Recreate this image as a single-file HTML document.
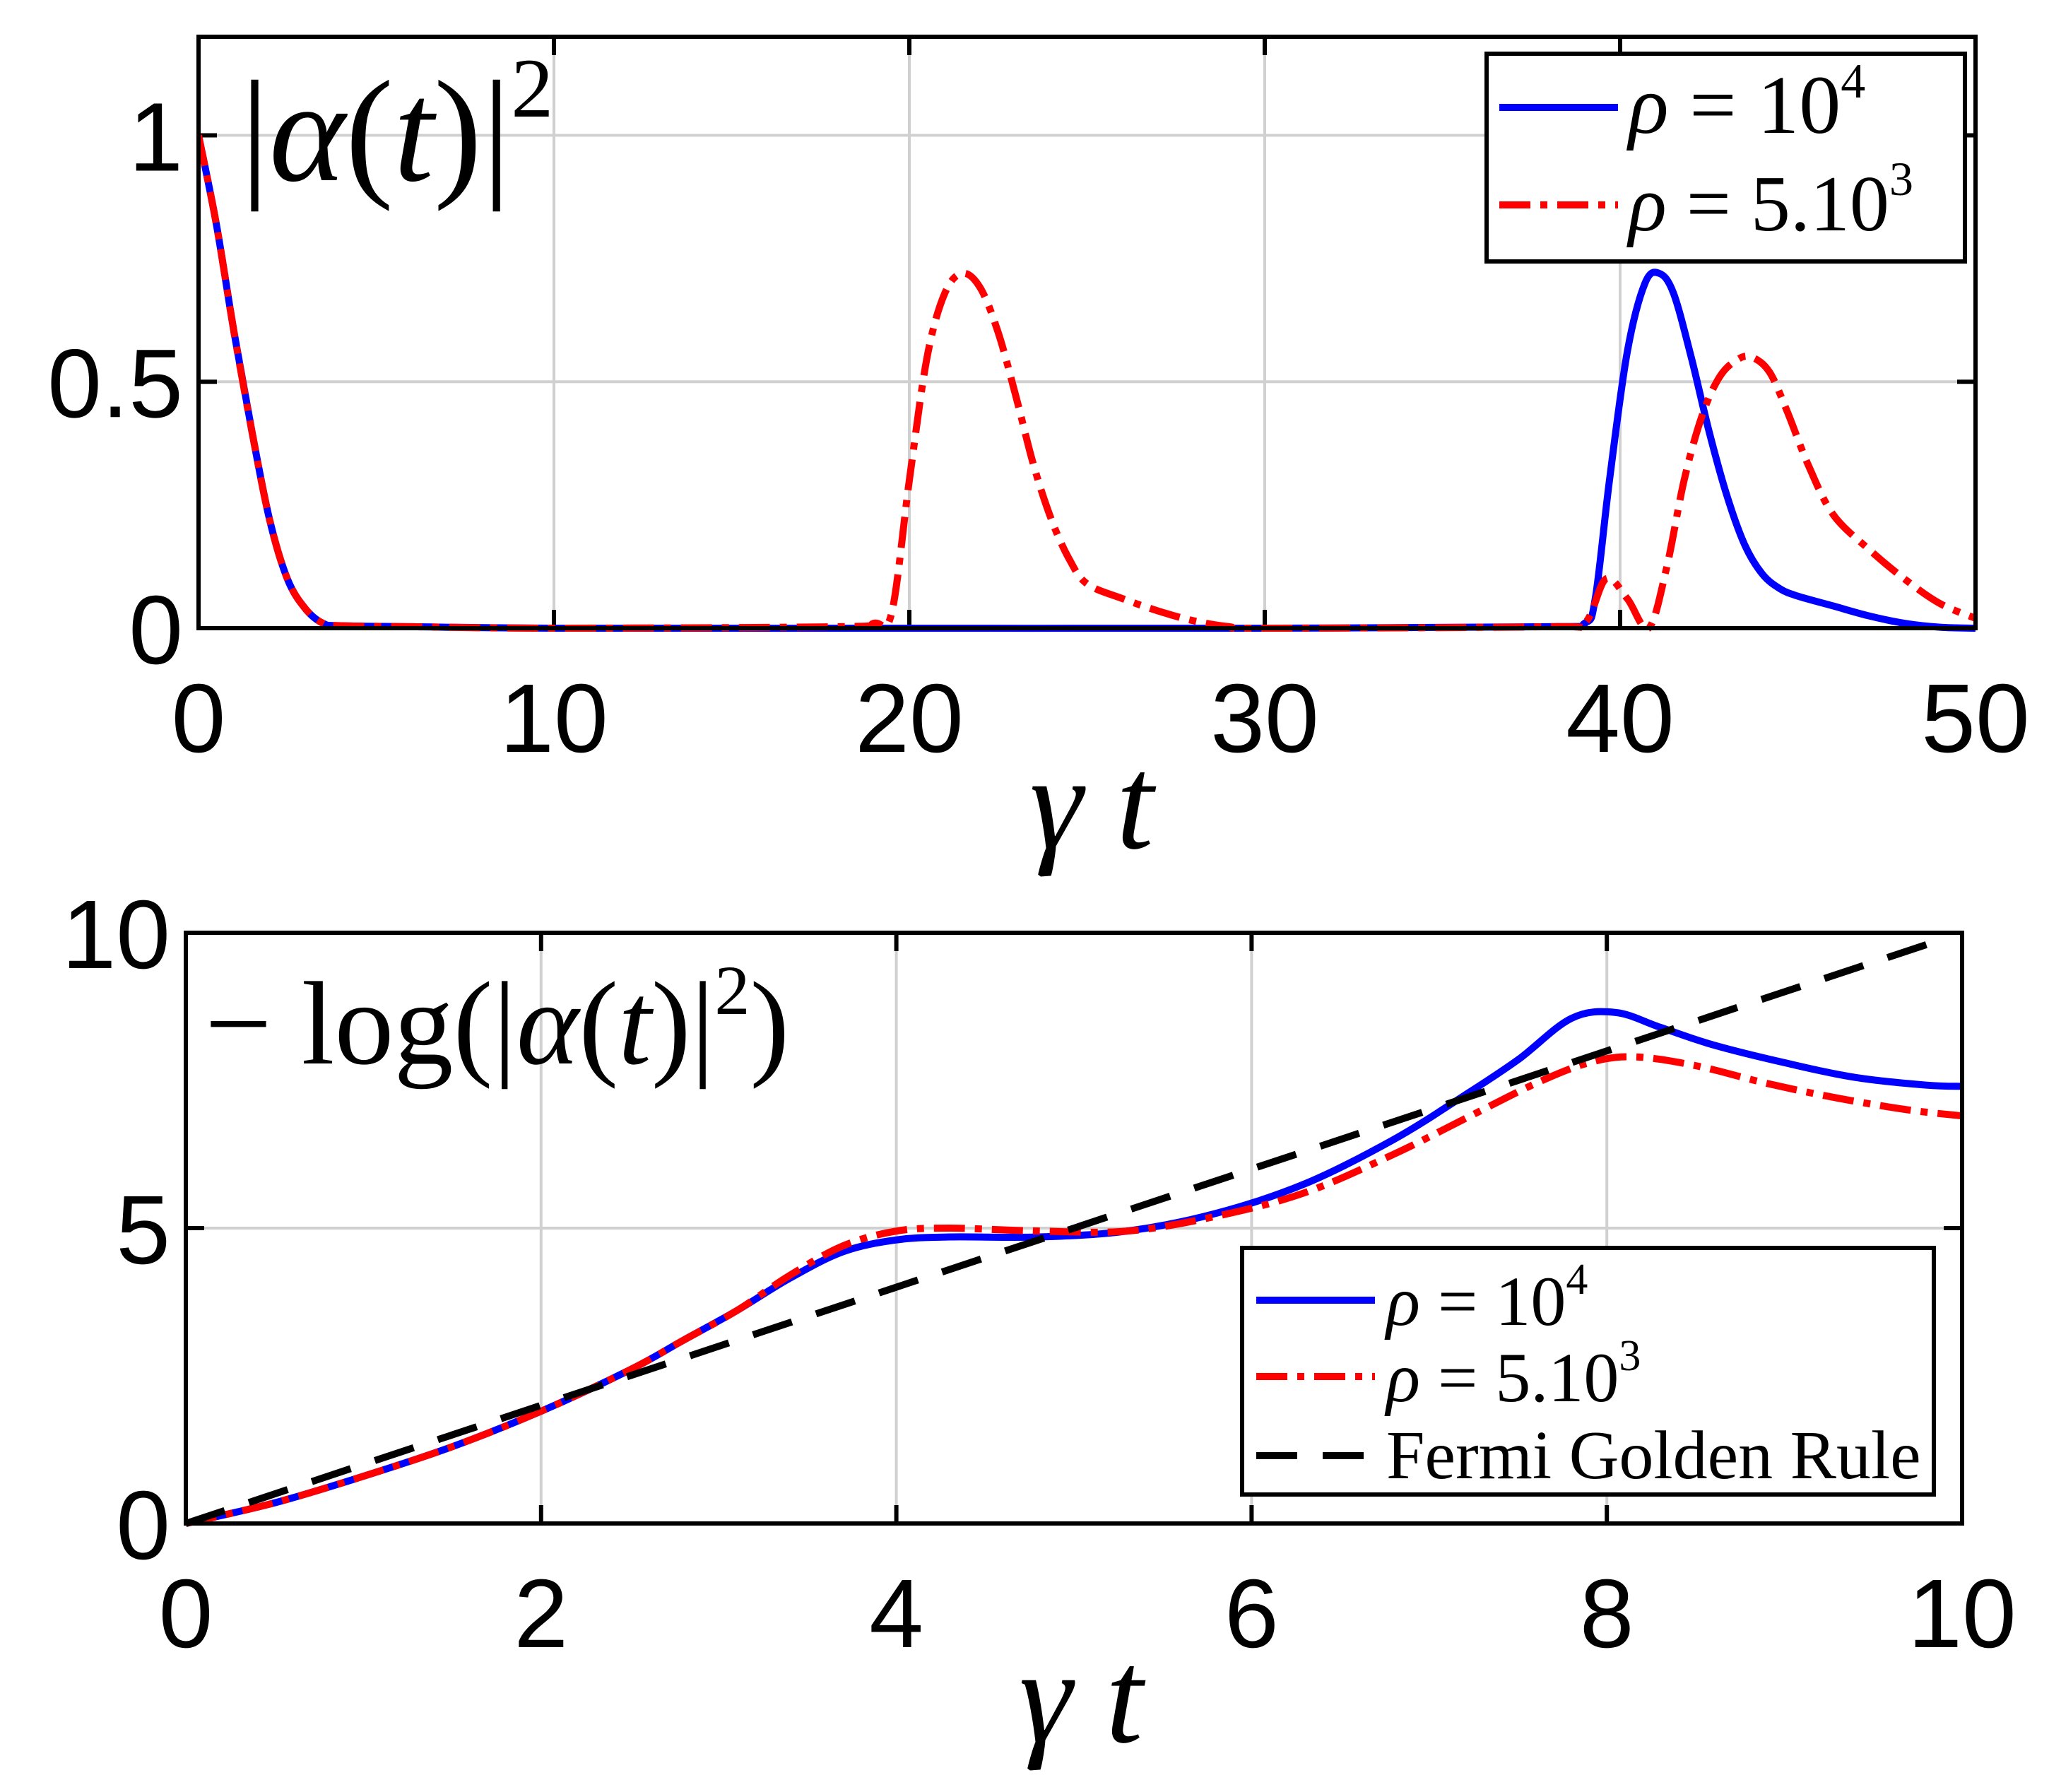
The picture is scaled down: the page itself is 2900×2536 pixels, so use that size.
<!DOCTYPE html>
<html><head><meta charset="utf-8"><style>
html,body{margin:0;padding:0;background:#fff}
svg{display:block}
.tk{font-family:"Liberation Sans",sans-serif;font-size:138px;fill:#000}
.ser{font-family:"Liberation Serif",serif;fill:#000}
</style></head><body>
<svg id="s" width="2900" height="2536" viewBox="0 0 2900 2536"></svg>
<script>
// ---- data: top panel ----
const topBlueT = [0,0.5,1,1.5,2,2.5,3,3.5,4,6,10,20,30,38,39,39.3,39.7,40.2,40.7,41.1,41.5,42,42.5,43,43.5,44,44.5,45,46,47,48,49,50];
const topBlueV = [1,0.82,0.6,0.4,0.22,0.1,0.04,0.01,0.005,0.003,0,0,0,0.003,0.01,0.06,0.3,0.56,0.7,0.72,0.68,0.55,0.4,0.27,0.17,0.11,0.08,0.065,0.045,0.025,0.01,0.002,0];
const topRedT = [0,0.5,1,1.5,2,2.5,3,3.5,4,6,10,18,19,19.5,20,20.5,21,21.5,22,22.5,23,23.5,24,24.5,25,26,27,28,29,30,38,39,39.6,40.2,40.8,41.3,41.8,42.3,42.8,43.3,43.7,44.2,44.7,45.3,46,47,48,49,50];
const topRedV = [1,0.82,0.6,0.4,0.22,0.1,0.04,0.01,0.005,0.003,0,0.003,0.01,0.03,0.3,0.55,0.68,0.72,0.69,0.6,0.47,0.33,0.22,0.14,0.09,0.06,0.035,0.015,0.003,0,0.003,0.01,0.1,0.06,0,0.12,0.3,0.43,0.51,0.545,0.55,0.52,0.44,0.33,0.23,0.16,0.1,0.05,0.02];
// ---- data: bottom panel ----
const botBlueT = [0,0.5,1,1.5,2,2.5,2.8,3.1,3.4,3.7,4,4.3,4.8,5.3,5.8,6.3,6.8,7.2,7.5,7.8,8.05,8.3,8.6,9,9.4,9.8,10];
const botBlueV = [0,0.35,0.8,1.3,1.9,2.6,3.1,3.6,4.15,4.6,4.8,4.85,4.85,4.95,5.25,5.75,6.5,7.25,7.85,8.55,8.65,8.4,8.1,7.8,7.55,7.42,7.4];
const botRedT = [0,0.5,1,1.5,2,2.5,2.8,3.1,3.4,3.7,4,4.3,4.8,5.3,5.8,6.3,6.8,7.2,7.6,7.9,8.15,8.5,8.9,9.3,9.7,10];
const botRedV = [0,0.35,0.8,1.3,1.9,2.6,3.1,3.6,4.2,4.7,4.95,5.0,4.95,4.95,5.2,5.6,6.25,6.85,7.45,7.8,7.9,7.75,7.45,7.2,7.0,6.9];
const fgrT = [0,9.8];
const fgrV = [0,9.8];
const topXTicks = [0,10,20,30,40,50];
const topYTicks = [0,0.5,1];
const topYLabels = ["0","0.5","1"];
const botXTicks = [0,2,4,6,8,10];
const botYTicks = [0,5,10];

const NS="http://www.w3.org/2000/svg", S=document.getElementById('s');
function el(tag,attrs,parent){const e=document.createElementNS(NS,tag);for(const k in attrs)e.setAttribute(k,attrs[k]);(parent||S).appendChild(e);return e;}
function axis(x0,x1,y0,y1,xmin,xmax,ymin,ymax){return{x:v=>x0+(v-xmin)/(xmax-xmin)*(x1-x0),y:v=>y1-(v-ymin)/(ymax-ymin)*(y1-y0),x0,x1,y0,y1};}
function path(ax,T,V){
  const p=T.map((t,i)=>[ax.x(t),ax.y(V[i])]);
  let d=`M${p[0][0]},${p[0][1]}`;
  for(let i=0;i<p.length-1;i++){
    const a=p[i-1]||p[i],b=p[i],c=p[i+1],e=p[i+2]||c;
    const c1=[b[0]+(c[0]-a[0])/6,b[1]+(c[1]-a[1])/6],c2=[c[0]-(e[0]-b[0])/6,c[1]-(e[1]-b[1])/6];
    d+=`C${c1[0]},${c1[1]} ${c2[0]},${c2[1]} ${c[0]},${c[1]}`;
  }
  return d;
}
function frame(ax,name,xt,yt,ylab){
  const g=el('g',{});
  
  
  xt.forEach(v=>{const x=ax.x(v);if(v!==xt[0]&&v!==xt[xt.length-1])el('line',{x1:x,x2:x,y1:ax.y0,y2:ax.y1,stroke:'#d0d0d0','stroke-width':4},g);});
  yt.forEach(v=>{const y=ax.y(v);if(y>ax.y0+5&&y<ax.y1-5)el('line',{x1:ax.x0,x2:ax.x1,y1:y,y2:y,stroke:'#d0d0d0','stroke-width':4},g);});
  xt.forEach(v=>{const x=ax.x(v);el('line',{x1:x,x2:x,y1:ax.y1,y2:ax.y1-26,stroke:'#000','stroke-width':6},g);el('line',{x1:x,x2:x,y1:ax.y0,y2:ax.y0+26,stroke:'#000','stroke-width':6},g);
    const t=el('text',{x:x,y:ax.y1+175,class:'tk','text-anchor':'middle'},g);t.textContent=v;
    
    });
  yt.forEach((v,i)=>{const y=ax.y(v);el('line',{x1:ax.x0,x2:ax.x0+26,y1:y,y2:y,stroke:'#000','stroke-width':6},g);el('line',{x1:ax.x1,x2:ax.x1-26,y1:y,y2:y,stroke:'#000','stroke-width':6},g);
    const t=el('text',{x:ax.x0-22,y:y+50,class:'tk','text-anchor':'end'},g);t.textContent=ylab?ylab[i]:v;
    
    });
  return g;
}
function series(ax,T,V,color,dash,name,clip){
  const p=el('path',{d:path(ax,T,V),fill:'none',stroke:color,'stroke-width':10,'stroke-linejoin':'round','clip-path':clip});
  if(dash)p.setAttribute('stroke-dasharray',dash);
  
  
}
function box(ax){el('rect',{x:ax.x0,y:ax.y0,width:ax.x1-ax.x0,height:ax.y1-ax.y0,fill:'none',stroke:'#000','stroke-width':6});}
const defs=el('defs',{});
function clipFor(ax,id){const c=el('clipPath',{id},defs);el('rect',{x:ax.x0,y:ax.y0-10,width:ax.x1-ax.x0,height:ax.y1-ax.y0+20},c);return `url(#${id})`;}

// top panel
const A=axis(281,2796,52,889,0,50,0,1.2);
frame(A,'top',topXTicks,topYTicks,topYLabels);
const cA=clipFor(A,'ca');
series(A,topBlueT,topBlueV,'#0000ff',null,'top-series-rho-1e4',cA);
series(A,topRedT,topRedV,'#ff0000','44 14 10 14','top-series-rho-5e3',cA);
box(A);
// bottom panel
const B=axis(263,2777,1320,2156,0,10,0,10);
frame(B,'bottom',botXTicks,botYTicks);
const cB=clipFor(B,'cb');
series(B,botBlueT,botBlueV,'#0000ff',null,'bottom-series-rho-1e4',cB);
series(B,botRedT,botRedV,'#ff0000','44 14 10 14','bottom-series-rho-5e3',cB);
series(B,fgrT,fgrV,'#000','58 36','fermi-golden-rule-line',cB);
box(B);
</script>
<svg width="2900" height="2536" viewBox="0 0 2900 2536" style="position:absolute;left:0;top:0">
  <text x="340" y="255" class="ser" font-size="205">|<tspan font-style="italic">α</tspan>(<tspan font-style="italic">t</tspan>)|<tspan font-size="120" dy="-90">2</tspan></text>
  <text x="1545" y="1200" class="ser" font-size="190" font-style="italic" text-anchor="middle">γ t</text>
  <text x="1530" y="2465" class="ser" font-size="190" font-style="italic" text-anchor="middle">γ t</text>
  <text x="290" y="1505" class="ser" font-size="168">− log(|<tspan font-style="italic">α</tspan>(<tspan font-style="italic">t</tspan>)|<tspan font-size="100" dy="-70">2</tspan><tspan dy="70">)</tspan></text>
  <g>
    <rect x="2104" y="76" width="677" height="294" fill="#fff" stroke="#000" stroke-width="6"/>
    <line x1="2122" x2="2290" y1="152" y2="152" stroke="#0000ff" stroke-width="10"/>
    <line x1="2122" x2="2290" y1="290" y2="290" stroke="#ff0000" stroke-width="10" stroke-dasharray="44 14 10 14"/>
    <text x="2305" y="188" class="ser" font-size="118"><tspan font-style="italic">ρ</tspan> = 10<tspan font-size="70" dy="-50">4</tspan></text>
    <text x="2305" y="326" class="ser" font-size="112"><tspan font-style="italic">ρ</tspan> = 5.10<tspan font-size="68" dy="-50">3</tspan></text>
  </g>
  <g>
    <rect x="1758" y="1766" width="979" height="349" fill="#fff" stroke="#000" stroke-width="6"/>
    <line x1="1778" x2="1946" y1="1840" y2="1840" stroke="#0000ff" stroke-width="10"/>
    <line x1="1778" x2="1946" y1="1948" y2="1948" stroke="#ff0000" stroke-width="10" stroke-dasharray="44 14 10 14"/>
    <line x1="1778" x2="1946" y1="2060" y2="2060" stroke="#000" stroke-width="10" stroke-dasharray="58 36"/>
    <text x="1962" y="1875" class="ser" font-size="100"><tspan font-style="italic">ρ</tspan> = 10<tspan font-size="62" dy="-44">4</tspan></text>
    <text x="1962" y="1983" class="ser" font-size="100"><tspan font-style="italic">ρ</tspan> = 5.10<tspan font-size="62" dy="-44">3</tspan></text>
    <text x="1962" y="2092" class="ser" font-size="98">Fermi Golden Rule</text>
  </g>
</svg>
</body></html>
